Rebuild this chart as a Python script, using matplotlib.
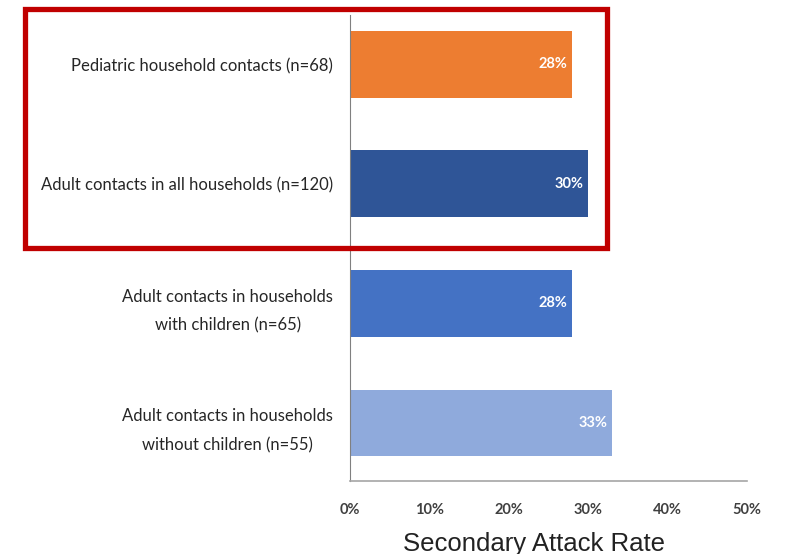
import matplotlib
matplotlib.use("Agg")
import matplotlib.pyplot as plt
from matplotlib.patches import Rectangle
from matplotlib.ticker import FuncFormatter

# data
groups = [
    "Pediatric household contacts (n=68)",
    "Adult contacts in all households (n=120)",
    "Adult contacts in households\nwith children (n=65)",
    "Adult contacts in households\nwithout children (n=55)",
]
rates = [28, 30, 28, 33]
bar_colors = ["#ED7D31", "#2F5597", "#4472C4", "#8FAADC"]
xticks = [0, 10, 20, 30, 40, 50]

narrow = ["Lato", "DejaVu Sans"]

fig = plt.figure(figsize=(7.87, 5.54), dpi=100)
ax = fig.add_axes([0.4447, 0.1318, 0.5045, 0.8412])

pos = list(range(len(groups)))
ax.barh(pos, rates, height=0.56, color=bar_colors)

for y, v in zip(pos, rates):
    ax.text(v - 0.6, y, f"{v}%", ha="right", va="center", color="white",
            fontsize=10.5, fontweight="bold", family=narrow)

ax.set_xlim(0, 50)
ax.set_ylim(3.485, -0.414)
ax.set_xticks(xticks)
ax.xaxis.set_major_formatter(FuncFormatter(lambda v, p: f"{v:.0f}%"))
ax.set_yticks(pos)
ax.set_yticklabels(groups, family=narrow, fontsize=12, color="#262626",
                   multialignment="center", linespacing=1.95)
for lab in ax.get_xticklabels():
    lab.set_family(narrow)
    lab.set_fontsize(10.5)
    lab.set_fontweight("bold")
    lab.set_color("#404040")
ax.tick_params(axis="both", length=0)
ax.tick_params(axis="x", pad=16)
ax.tick_params(axis="y", pad=12)

for s in ["top", "right"]:
    ax.spines[s].set_visible(False)
ax.spines["left"].set_color("#808080")
ax.spines["bottom"].set_color("#A6A6A6")
ax.spines["bottom"].set_linewidth(1.2)

ax.set_xlabel("Secondary Attack Rate", fontsize=18.5, family=["Liberation Sans", "DejaVu Sans"],
              color="#222222")
ax.xaxis.set_label_coords(0.463, -0.11)

fig.patches.append(Rectangle((0.0318, 0.5532), 0.7395, 0.4297, transform=fig.transFigure,
                             fill=False, edgecolor="#C00000", linewidth=3.8))

fig.savefig("out.png", dpi=100)
